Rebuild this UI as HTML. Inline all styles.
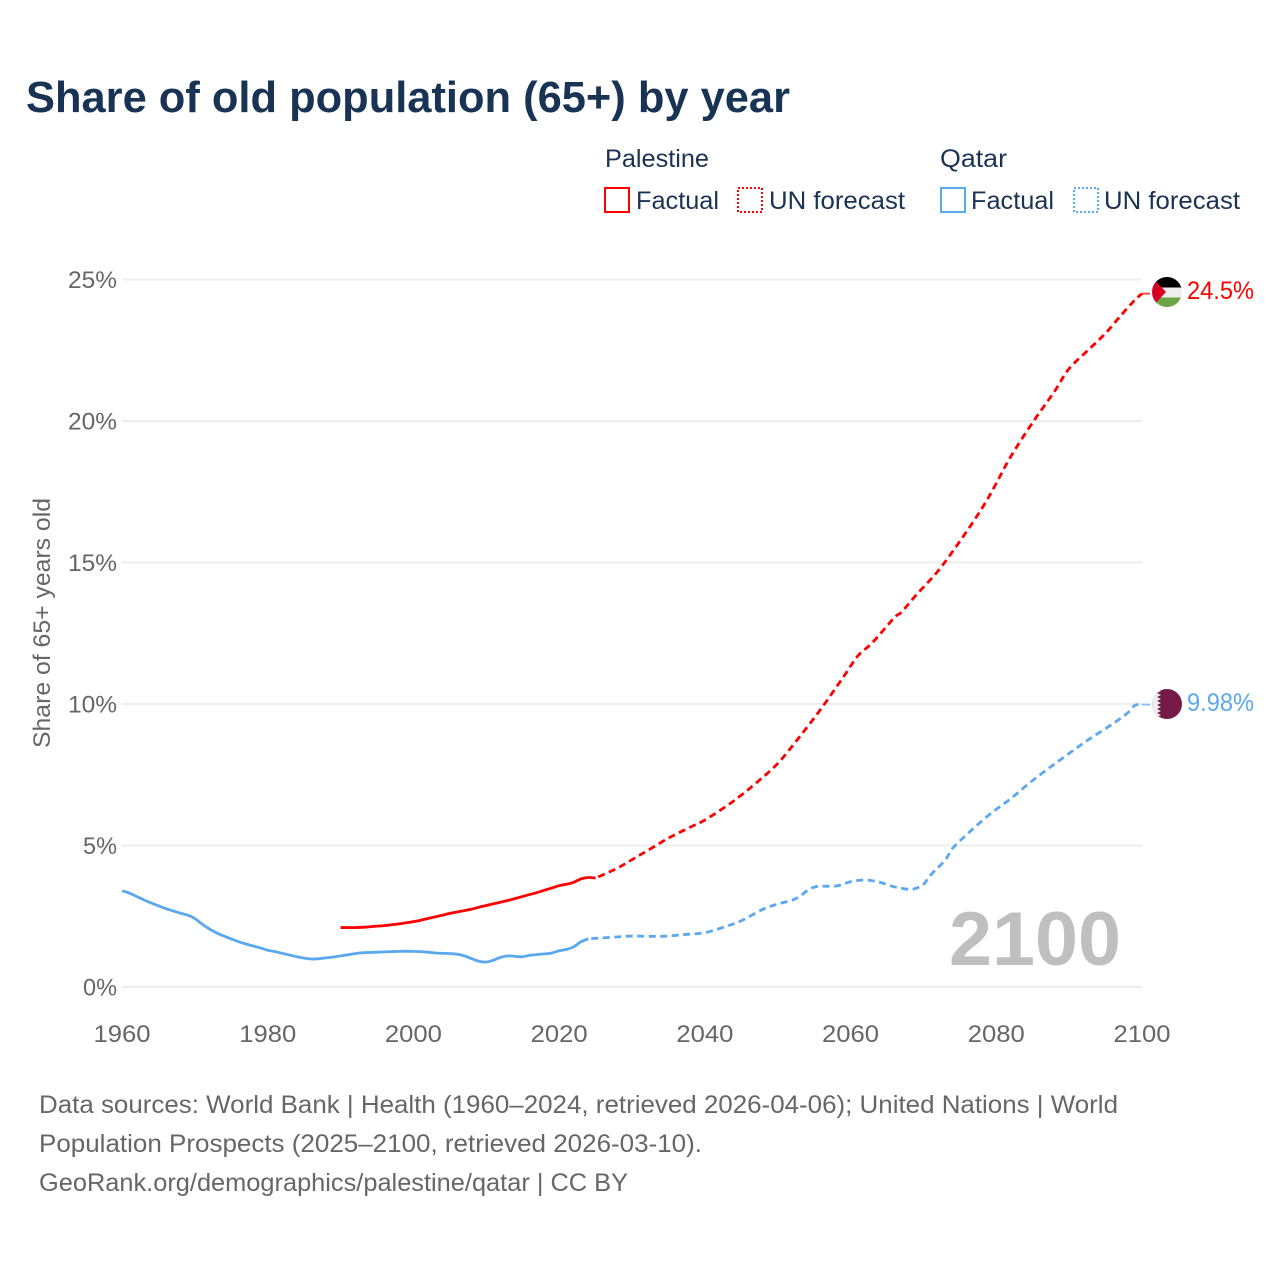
<!DOCTYPE html>
<html lang="en">
<head>
<meta charset="utf-8">
<title>Share of old population (65+) by year</title>
<style>
html,body{margin:0;padding:0;background:#fff;width:1280px;height:1280px;overflow:hidden}
svg{display:block;font-family:"Liberation Sans",sans-serif}
</style>
</head>
<body>
<svg id="chart" xmlns="http://www.w3.org/2000/svg" width="1280" height="1280" viewBox="0 0 1280 1280">
  <defs>
    <clipPath id="flag-clip-ps"><circle cx="1167" cy="292" r="15"/></clipPath>
    <clipPath id="flag-clip-qa"><circle cx="1167" cy="704" r="15"/></clipPath>
  </defs>
  <rect width="1280" height="1280" fill="#fff"/>
  <text x="26" y="112" font-size="44" font-weight="700" fill="#183354" textLength="764" lengthAdjust="spacingAndGlyphs">Share of old population (65+) by year</text>

  <g font-size="25" fill="#1a3353">
    <text x="605" y="167" textLength="104" lengthAdjust="spacingAndGlyphs">Palestine</text>
    <rect x="605" y="188" width="24" height="24" fill="none" stroke="#ff0000" stroke-width="2"/>
    <text x="636" y="209" textLength="83" lengthAdjust="spacingAndGlyphs">Factual</text>
    <rect x="738" y="188" width="24" height="24" fill="none" stroke="#ff0000" stroke-width="2" stroke-dasharray="2 2"/>
    <text x="769" y="209" textLength="136" lengthAdjust="spacingAndGlyphs">UN forecast</text>
    <text x="940" y="167" textLength="67" lengthAdjust="spacingAndGlyphs">Qatar</text>
    <rect x="941" y="188" width="24" height="24" fill="none" stroke="#5ba8ee" stroke-width="2"/>
    <text x="971" y="209" textLength="83" lengthAdjust="spacingAndGlyphs">Factual</text>
    <rect x="1074" y="188" width="24" height="24" fill="none" stroke="#5ba8ee" stroke-width="2" stroke-dasharray="2 2"/>
    <text x="1104" y="209" textLength="136" lengthAdjust="spacingAndGlyphs">UN forecast</text>
  </g>

  <text transform="translate(50,748) rotate(-90)" font-size="24" fill="#666" textLength="250" lengthAdjust="spacingAndGlyphs">Share of 65+ years old</text>

  <g id="grid"></g>
  <g id="y-ticks"></g>
  <g id="x-ticks"></g>

  <text x="949" y="965" font-size="76" font-weight="700" fill="#bfbfbf" textLength="172" lengthAdjust="spacingAndGlyphs">2100</text>

  <g id="series"></g>

  <g clip-path="url(#flag-clip-ps)">
    <rect x="1152" y="277" width="30" height="10.5" fill="#000"/>
    <rect x="1152" y="287.5" width="30" height="10" fill="#eeeeee"/>
    <rect x="1152" y="297.5" width="30" height="10" fill="#6da544"/>
    <polygon points="1152,277 1166,292 1152,307" fill="#d80027"/>
  </g>
  <text x="1187" y="299" font-size="25" fill="#ff0000" textLength="67" lengthAdjust="spacingAndGlyphs">24.5%</text>

  <g clip-path="url(#flag-clip-qa)">
    <rect x="1152" y="689" width="30" height="30" fill="#751a46"/>
    <polygon points="1152,689 1157,689 1161,691 1157,693 1161,695 1157,697 1161,699 1157,701 1161,703 1157,705 1161,707 1157,709 1161,711 1157,713 1161,715 1157,717 1161,719 1152,719" fill="#eeeeee"/>
  </g>
  <text x="1187" y="711" font-size="25" fill="#5ba8ee" textLength="67" lengthAdjust="spacingAndGlyphs">9.98%</text>

  <g font-size="25" fill="#666">
    <text x="39" y="1113" textLength="1079" lengthAdjust="spacingAndGlyphs">Data sources: World Bank | Health (1960–2024, retrieved 2026-04-06); United Nations | World</text>
    <text x="39" y="1152" textLength="663" lengthAdjust="spacingAndGlyphs">Population Prospects (2025–2100, retrieved 2026-03-10).</text>
    <text x="39" y="1191" textLength="589" lengthAdjust="spacingAndGlyphs">GeoRank.org/demographics/palestine/qatar | CC BY</text>
  </g>
</svg>
<script>
const xTickYears = [1960, 1980, 2000, 2020, 2040, 2060, 2080, 2100];
const yTickValues = [0, 5, 10, 15, 20, 25];

const palestineFactualYears = [1990,1991,1992,1993,1994,1995,1996,1997,1998,1999,2000,2001,2002,2003,2004,2005,2006,2007,2008,2009,2010,2011,2012,2013,2014,2015,2016,2017,2018,2019,2020,2021,2022,2023,2024,2025];
const palestineFactualValues = [2.1,2.1,2.1,2.11,2.13,2.15,2.17,2.2,2.23,2.27,2.31,2.36,2.42,2.48,2.54,2.6,2.65,2.7,2.75,2.82,2.88,2.94,3.0,3.06,3.13,3.2,3.27,3.34,3.42,3.5,3.58,3.63,3.7,3.82,3.87,3.85];
const palestineForecastYears = [2025,2028,2030,2032,2035,2038,2040,2043,2045,2047,2050,2053,2056,2059,2061,2063,2066,2067,2069,2072,2075,2078,2080,2082,2085,2088,2090,2093,2095,2097,2099,2100];
const palestineForecastValues = [3.85,4.2,4.5,4.8,5.26,5.65,5.9,6.4,6.78,7.2,7.9,8.84,9.85,10.95,11.7,12.17,13.05,13.25,13.85,14.7,15.75,16.9,17.8,18.75,19.95,21.05,21.85,22.6,23.1,23.7,24.27,24.5];

const qatarFactualYears = [1960,1961,1962,1963,1964,1965,1966,1967,1968,1969,1970,1971,1972,1973,1974,1975,1976,1977,1978,1979,1980,1981,1982,1983,1984,1985,1986,1987,1988,1989,1990,1991,1992,1993,1994,1995,1996,1997,1998,1999,2000,2001,2002,2003,2004,2005,2006,2007,2008,2009,2010,2011,2012,2013,2014,2015,2016,2017,2018,2019,2020,2021,2022,2023,2024];
const qatarFactualValues = [3.4,3.32,3.2,3.08,2.97,2.87,2.77,2.69,2.61,2.54,2.42,2.22,2.05,1.91,1.8,1.7,1.6,1.52,1.45,1.38,1.3,1.25,1.19,1.13,1.07,1.02,0.99,1.0,1.03,1.06,1.1,1.14,1.18,1.21,1.22,1.23,1.24,1.25,1.26,1.265,1.26,1.25,1.23,1.2,1.19,1.18,1.16,1.1,1.0,0.91,0.88,0.95,1.05,1.1,1.08,1.07,1.12,1.15,1.17,1.2,1.28,1.33,1.42,1.6,1.7];
const qatarForecastYears = [2024,2025,2028,2030,2034,2037,2040,2043,2045,2048,2050,2052,2053,2055,2058,2060,2062,2064,2066,2068,2069,2070,2071,2073,2074,2076,2079,2082,2085,2088,2091,2093,2096,2098,2099,2100];
const qatarForecastValues = [1.7,1.72,1.77,1.8,1.79,1.85,1.92,2.15,2.34,2.75,2.93,3.07,3.2,3.53,3.57,3.72,3.78,3.7,3.54,3.45,3.49,3.62,3.96,4.49,4.9,5.4,6.08,6.66,7.3,7.88,8.44,8.8,9.3,9.68,9.95,9.98];

const xScale = function (year) { return 122 + (year - 1960) * (1020 / 140); };
const yScale = function (value) { return 987 - value * 28.3; };
const NS = 'http://www.w3.org/2000/svg';

function linePath(years, values) {
  const pts = years.map(function (y, i) { return [xScale(y), yScale(values[i])]; });
  let d = 'M' + pts[0][0].toFixed(2) + ' ' + pts[0][1].toFixed(2);
  for (let i = 0; i < pts.length - 1; i++) {
    const p0 = pts[Math.max(i - 1, 0)], p1 = pts[i], p2 = pts[i + 1], p3 = pts[Math.min(i + 2, pts.length - 1)];
    const c1x = p1[0] + (p2[0] - p0[0]) / 6, c1y = p1[1] + (p2[1] - p0[1]) / 6;
    const c2x = p2[0] - (p3[0] - p1[0]) / 6, c2y = p2[1] - (p3[1] - p1[1]) / 6;
    d += 'C' + c1x.toFixed(2) + ' ' + c1y.toFixed(2) + ' ' + c2x.toFixed(2) + ' ' + c2y.toFixed(2) + ' ' + p2[0].toFixed(2) + ' ' + p2[1].toFixed(2);
  }
  return d;
}

const gridGroup = document.getElementById('grid');
const yTickGroup = document.getElementById('y-ticks');
const xTickGroup = document.getElementById('x-ticks');
const seriesGroup = document.getElementById('series');

yTickValues.forEach(function (v) {
  const line = document.createElementNS(NS, 'line');
  
  
  line.setAttribute('x1', 122);
  line.setAttribute('x2', 1142);
  line.setAttribute('y1', yScale(v));
  line.setAttribute('y2', yScale(v));
  line.setAttribute('stroke', '#eeeeee');
  line.setAttribute('stroke-width', 2);
  gridGroup.appendChild(line);

  const label = document.createElementNS(NS, 'text');
  
  
  label.setAttribute('x', 117);
  label.setAttribute('y', yScale(v) + 8.5);
  label.setAttribute('text-anchor', 'end');
  label.setAttribute('font-size', 24);
  label.setAttribute('fill', '#666');
  label.setAttribute('textLength', v < 10 ? 34 : 49);
  label.setAttribute('lengthAdjust', 'spacingAndGlyphs');
  label.textContent = v + '%';
  yTickGroup.appendChild(label);
});

xTickYears.forEach(function (yr) {
  const label = document.createElementNS(NS, 'text');
  
  
  label.setAttribute('x', xScale(yr));
  label.setAttribute('y', 1042);
  label.setAttribute('text-anchor', 'middle');
  label.setAttribute('font-size', 24);
  label.setAttribute('fill', '#666');
  label.setAttribute('textLength', 57);
  label.setAttribute('lengthAdjust', 'spacingAndGlyphs');
  label.textContent = yr;
  xTickGroup.appendChild(label);
});

function addSeries(years, values, color, dashed) {
  const path = document.createElementNS(NS, 'path');
  path.setAttribute('d', linePath(years, values));
  path.setAttribute('fill', 'none');
  path.setAttribute('stroke', color);
  path.setAttribute('stroke-width', 2.8);
  path.setAttribute('stroke-linejoin', 'round');
  if (dashed) {
    path.setAttribute('stroke-dasharray', '7 4.5');
    path.setAttribute('stroke-dashoffset', '-3');
  }
  seriesGroup.appendChild(path);
  return path;
}

function addConnector(value, color) {
  const link = document.createElementNS(NS, 'line');
  link.setAttribute('x1', xScale(2100));
  link.setAttribute('x2', xScale(2100) + 8);
  link.setAttribute('y1', yScale(value));
  link.setAttribute('y2', yScale(value));
  link.setAttribute('stroke', color);
  link.setAttribute('stroke-width', 2);
  link.setAttribute('stroke-opacity', 0.7);
  seriesGroup.appendChild(link);
  return link;
}

const qatarFactualLine = addSeries(qatarFactualYears, qatarFactualValues, '#5ba8ee', false);


const qatarForecastLine = addSeries(qatarForecastYears, qatarForecastValues, '#5ba8ee', true);


const palestineFactualLine = addSeries(palestineFactualYears, palestineFactualValues, '#ff0000', false);


const palestineForecastLine = addSeries(palestineForecastYears, palestineForecastValues, '#ff0000', true);


const palestineConnector = addConnector(palestineForecastValues[palestineForecastValues.length - 1], '#ff0000');


const qatarConnector = addConnector(qatarForecastValues[qatarForecastValues.length - 1], '#5ba8ee');


</script>
</body>
</html>
